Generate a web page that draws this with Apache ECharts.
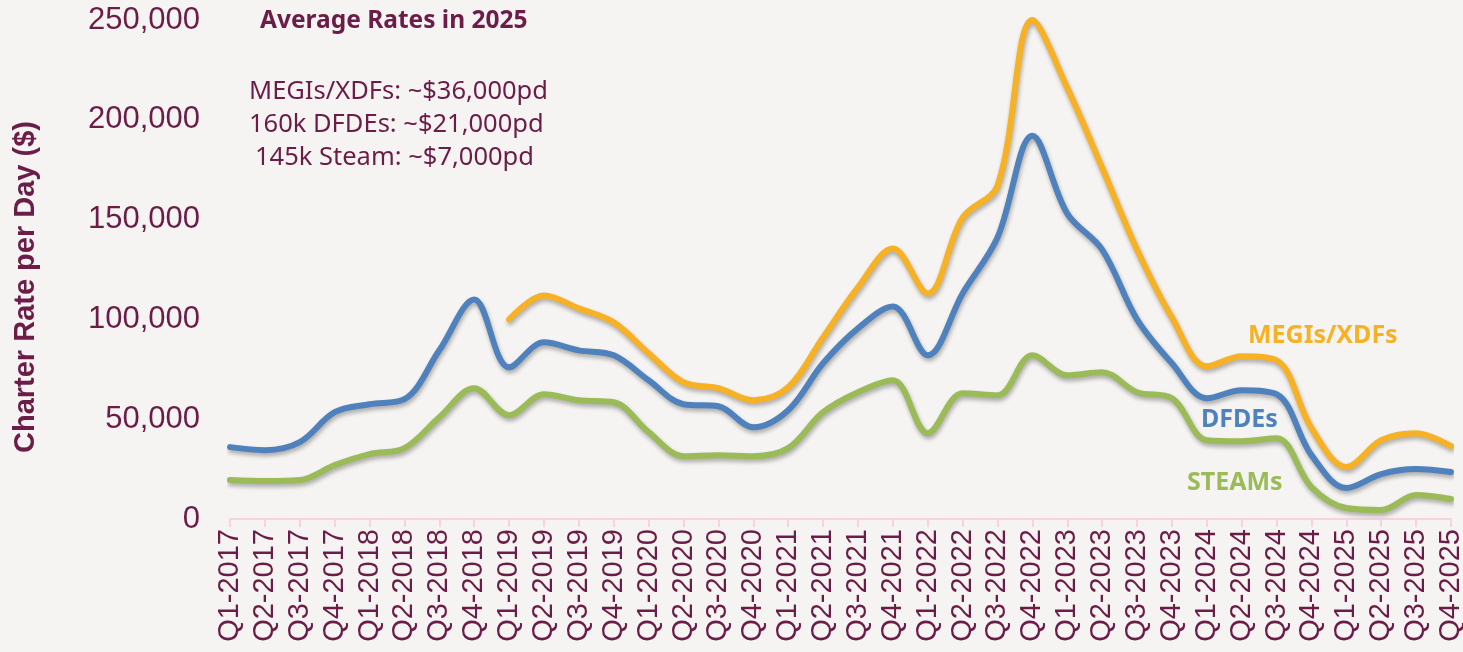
<!DOCTYPE html>
<html>
<head>
<meta charset="utf-8">
<script src="https://cdn.jsdelivr.net/npm/echarts@6/dist/echarts.min.js"></script>
<style>
  html, body { margin: 0; padding: 0; background: #f5f4f2; }
  #chart { width: 1463px; height: 652px; }
</style>
</head>
<body>
<div id="chart"></div>
<script>
var quarters = [];
for (var yr = 2017; yr <= 2025; yr++) {
  for (var q = 1; q <= 4; q++) quarters.push('Q' + q + '-' + yr);
}

// charter rates, $ per day
var megiXdf = [null, null, null, null, null, null, null, null,
  100000, 112000, 105500, 98500, 83000, 68500, 65500, 59500,
  66000, 91000, 116000, 135500, 113000, 151000, 167000, 250000,
  216000, 176000, 135000, 101000, 76500, 81500, 79500, 45500,
  26000, 39500, 43000, 36500];
var dfde = [36000, 34500, 38500, 53500, 57500, 60000, 84500, 110000,
  76000, 88500, 84500, 82000, 69500, 57500, 56500, 46000,
  54500, 78000, 95500, 106500, 82000, 113000, 141000, 192000,
  153000, 135000, 100000, 78000, 60500, 64500, 62500, 32000,
  15500, 22500, 25000, 23500];
var steam = [19500, 19000, 19500, 27000, 32500, 35500, 51000, 65500,
  52000, 62500, 59500, 58500, 43500, 31500, 32000, 31500,
  35500, 53500, 63500, 69500, 43000, 63000, 62000, 82000,
  72000, 73500, 63500, 60500, 39500, 39000, 40500, 16000,
  5500, 4500, 12000, 10000];

var yTicks = [0, 50000, 100000, 150000, 200000, 250000];

var textColor = '#6b1d47';
var orange = '#f7b125';
var blue = '#4f81bd';
var green = '#9bbb59';

var chart = echarts.init(document.getElementById('chart'));

function lineSeries(name, data, color) {
  return {
    name: name,
    type: 'line',
    data: data,
    smooth: 0.35,
    symbol: 'none',
    connectNulls: false,
    lineStyle: {
      color: color,
      width: 6,
      cap: 'round',
      shadowColor: 'rgba(0,0,0,0.3)',
      shadowBlur: 4,
      shadowOffsetX: 1,
      shadowOffsetY: 3
    },
    z: 3
  };
}

chart.setOption({
  backgroundColor: '#f5f4f2',
  animation: false,
  grid: { left: 230, right: 12, top: 20, bottom: 133, containLabel: false, outerBoundsMode: 'none' },
  xAxis: {
    type: 'category',
    data: quarters,
    boundaryGap: false,
    axisLine: { lineStyle: { color: '#f5d3e2', width: 2 } },
    axisTick: { show: true, length: 8, lineStyle: { color: '#f5d3e2', width: 2 } },
    axisLabel: {
      rotate: 90,
      interval: 0,
      margin: 10,
      color: textColor,
      fontFamily: 'Liberation Sans',
      fontSize: 29
    }
  },
  yAxis: {
    type: 'value',
    min: yTicks[0],
    max: yTicks[yTicks.length - 1],
    interval: 50000,
    axisLine: { show: false },
    axisTick: { show: false },
    splitLine: { show: false },
    axisLabel: {
      margin: 30,
      color: textColor,
      fontFamily: 'Liberation Sans',
      fontSize: 31,
      formatter: function (v) { return v.toLocaleString('en-US'); }
    }
  },
  series: [
    lineSeries('MEGIs/XDFs', megiXdf, orange),
    lineSeries('DFDEs', dfde, blue),
    lineSeries('STEAMs', steam, green)
  ],
  graphic: [
    { type: 'text', x: 26, y: 287, rotation: Math.PI / 2, style: { text: 'Charter Rate per Day ($)', fill: textColor, align: 'center', verticalAlign: 'middle', font: 'bold 29px "Liberation Sans", sans-serif' } },
    { type: 'text', left: 260, top: 9, style: { text: 'Average Rates in 2025', fill: textColor, font: 'bold 24.5px "Noto Sans", sans-serif' } },
    { type: 'text', left: 249, top: 79, style: { text: 'MEGIs/XDFs: ~$36,000pd', fill: textColor, font: '25.5px "Noto Sans", sans-serif' } },
    { type: 'text', left: 249, top: 112, style: { text: '160k DFDEs: ~$21,000pd', fill: textColor, font: '25.5px "Noto Sans", sans-serif' } },
    { type: 'text', left: 255, top: 145, style: { text: '145k Steam: ~$7,000pd', fill: textColor, font: '25.5px "Noto Sans", sans-serif' } },
    { type: 'text', left: 1248, top: 323, style: { text: 'MEGIs/XDFs', fill: orange, font: 'bold 25px "Noto Sans", sans-serif' } },
    { type: 'text', left: 1201, top: 407, style: { text: 'DFDEs', fill: blue, font: 'bold 25px "Noto Sans", sans-serif' } },
    { type: 'text', left: 1187, top: 470, style: { text: 'STEAMs', fill: green, font: 'bold 25px "Noto Sans", sans-serif' } }
  ]
});
</script>
</body>
</html>
